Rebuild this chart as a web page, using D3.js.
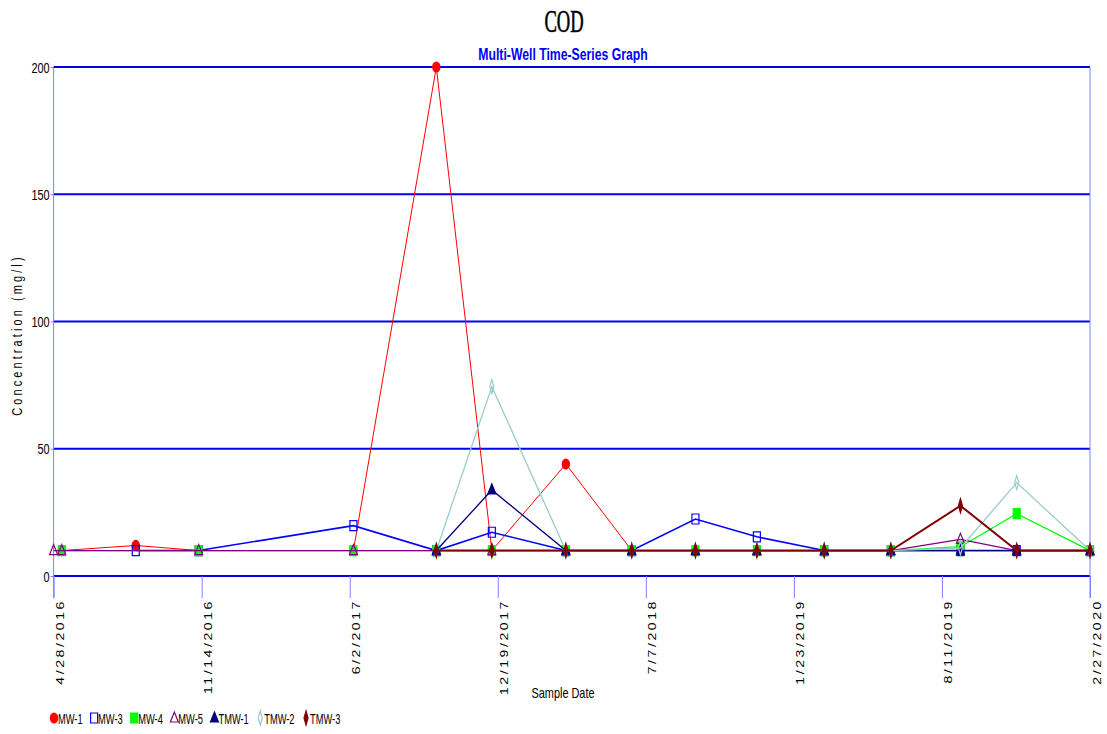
<!DOCTYPE html>
<html>
<head>
<meta charset="utf-8">
<script src="https://cdn.jsdelivr.net/npm/d3@7.9.0/dist/d3.min.js"></script>
<style>
  body { margin: 0; background: #fff; }
  svg text { font-family: "Liberation Sans", Arial, sans-serif; }
</style>
</head>
<body>
<svg id="chart" width="1107" height="734"></svg>
<script>
const sampleDates = ['2016-04-28', '2016-05-09', '2016-08-17', '2016-11-10', '2017-06-07', '2017-09-27',
  '2017-12-11', '2018-03-21', '2018-06-18', '2018-09-12', '2018-12-04', '2019-03-05',
  '2019-06-03', '2019-09-05', '2019-11-20', '2020-02-27'];
const mw1  = [null, 10, 12, 10, 10, 200, 10, 44, 10, 10, 10, 10, 10, 10, 10, 10];
const mw3  = [null, null, 10, 10, 19.8, 10, 17.2, 10, 10, 22.4, 15.4, 10, 10, 10, 10, 10];
const mw4  = [null, 10, null, 10, 10, 10, 10, 10, 10, 10, 10, 10, 10, 11.5, 24.5, 10];
const mw5  = [10, 10, null, 10, 10, 10, 10, 10, 10, 10, 10, 10, 10, 14.4, 10, 10];
const tmw1 = [null, null, null, null, null, 10, 33.8, 10, 10, 10, 10, 10, 10, 10, 10, 10];
const tmw2 = [null, null, null, null, null, 10, 74.4, 10, 10, 10, 10, 10, 10, 11, 36.7, 10];
const tmw3 = [null, null, null, null, null, 10, 10, 10, 10, 10, 10, 10, 10, 27.6, 10, 10];
const yTicks = [0, 50, 100, 150, 200];
const tickStart = '2016-04-28';
const tickStepDays = 200;
const tickCount = 8;

const series = [
  {name: 'MW-1', values: mw1, color: '#ff0000', shape: 'circle', fill: true, width: 1},
  {name: 'MW-3', values: mw3, color: '#0000ff', shape: 'square', fill: false, width: 1.6},
  {name: 'MW-4', values: mw4, color: '#00ff00', shape: 'square', fill: true, width: 1.3},
  {name: 'MW-5', values: mw5, color: '#800080', shape: 'triangle', fill: false, width: 1.3},
  {name: 'TMW-1', values: tmw1, color: '#000080', shape: 'triangle', fill: true, width: 1.3},
  {name: 'TMW-2', values: tmw2, color: '#99cccc', shape: 'diamond', fill: false, width: 1.3},
  {name: 'TMW-3', values: tmw3, color: '#800000', shape: 'diamond', fill: true, width: 2},
];

const parse = d3.timeParse('%Y-%m-%d');
const dates = sampleDates.map(parse);
const t0 = parse(tickStart);
const xTicks = d3.range(tickCount).map(i => d3.timeDay.offset(t0, i * tickStepDays));

const svg = d3.select('#chart');
const plotLeft = 53.6, plotRight = 1090, plotTop = 67, plotBottom = 576;
const squeeze = 0.78; // the original uses a condensed font

const x = d3.scaleTime().domain([xTicks[0], xTicks[xTicks.length - 1]]).range([plotLeft, plotRight]);
const y = d3.scaleLinear().domain([0, 200]).range([plotBottom, plotTop]);

// put condensed text at (tx, ty)
function narrowText(parent, tx, ty, str, anchor, sx) {
  return parent.append('text')
    .attr('transform', `translate(${tx},${ty}) scale(${sx || squeeze},1)`)
    .attr('text-anchor', anchor || 'start')
    .text(str);
}

// titles
svg.append('text').attr('transform', 'translate(564,32) scale(0.6,1)').attr('text-anchor', 'middle')
  .style('font-family', '"Liberation Serif", serif').style('font-size', '31px')
  .attr('stroke', '#000').attr('stroke-width', 0.6)
  .text('COD');
narrowText(svg, 563, 60, 'Multi-Well Time-Series Graph', 'middle', 0.72)
  .style('font-size', '17px').style('font-weight', 'bold').attr('fill', '#0000ff');

// horizontal grid lines
svg.append('g').selectAll('line').data(yTicks).join('line')
  .attr('x1', plotLeft).attr('x2', plotRight)
  .attr('y1', d => y(d)).attr('y2', d => y(d))
  .attr('stroke', '#0000ee').attr('stroke-width', 1.8);

// left and right frame
svg.append('line').attr('x1', plotLeft).attr('x2', plotLeft).attr('y1', plotTop).attr('y2', plotBottom + 22)
  .attr('stroke', '#8080ff').attr('stroke-width', 1);
svg.append('line').attr('x1', plotRight).attr('x2', plotRight).attr('y1', plotTop).attr('y2', plotBottom + 22)
  .attr('stroke', '#8080ff').attr('stroke-width', 1);

// y axis labels
const yAxis = d3.axisLeft(y).tickValues(yTicks).tickSize(3).tickPadding(1);
const gy = svg.append('g').attr('transform', `translate(${plotLeft},0)`).call(yAxis);
gy.select('.domain').remove();
gy.selectAll('.tick line').attr('stroke', '#8080ff');
gy.selectAll('.tick text').attr('x', null).attr('dy', null)
  .attr('transform', `translate(-4,5) scale(${squeeze},1)`)
  .style('font-size', '14px').attr('fill', '#000');

// x axis ticks + rotated labels
const xAxis = d3.axisBottom(x).tickValues(xTicks).tickSize(22).tickFormat(d3.timeFormat('%-m/%-d/%Y'));
const gx = svg.append('g').attr('transform', `translate(0,${plotBottom})`).call(xAxis);
gx.select('.domain').remove();
gx.selectAll('.tick line').attr('stroke', '#8080ff');
gx.selectAll('.tick text')
  .attr('transform', `translate(10,23) rotate(-90) scale(1,${squeeze})`)
  .attr('text-anchor', 'end')
  .attr('x', 0).attr('y', 0).attr('dy', 0)
  .attr('fill', '#000')
  .style('font-size', '14px').style('letter-spacing', '2.6px');

// axis titles
svg.append('text').attr('transform', `translate(22,335) rotate(-90) scale(${squeeze},1)`).attr('text-anchor', 'middle')
  .style('font-size', '14px').style('letter-spacing', '4px').text('Concentration (mg/l)');
narrowText(svg, 563, 698, 'Sample Date', 'middle').style('font-size', '14px');

// marker shapes (drawn slightly taller than wide like the original)
function markerPath(shape) {
  if (shape === 'circle') return 'M0,-5 A3.6,5 0 1,1 0,5 A3.6,5 0 1,1 0,-5 Z';
  if (shape === 'square') return 'M-3.5,-5 H3.5 V5 H-3.5 Z';
  if (shape === 'triangle') return 'M0,-6 L4,4 L-4,4 Z';
  return 'M0,-7 L2,0 L0,7 L-2,0 Z';
}

const line = d3.line()
  .defined(d => d.v !== null)
  .x(d => x(d.date)).y(d => y(d.v));

series.forEach(s => {
  const pts = dates.map((date, i) => ({date, v: s.values[i]})).filter(d => d.v !== null);
  svg.append('path').datum(pts)
    .attr('d', line)
    .attr('fill', 'none')
    .attr('stroke', s.color)
    .attr('stroke-width', s.width);
  svg.append('g').selectAll('path').data(pts).join('path')
    .attr('d', markerPath(s.shape))
    .attr('transform', d => `translate(${x(d.date)},${y(d.v)})`)
    .attr('fill', s.fill ? s.color : 'none')
    .attr('stroke', s.color)
    .attr('stroke-width', 1.2);
});

// legend
const legend = svg.append('g').attr('transform', 'translate(54,718)');
let lx = 0;
series.forEach(s => {
  const g = legend.append('g').attr('transform', `translate(${lx},0)`);
  g.append('path').attr('d', markerPath(s.shape))
    .attr('fill', s.fill ? s.color : 'none')
    .attr('stroke', s.color).attr('stroke-width', 1.2);
  const t = narrowText(g, 4, 5.5, s.name, 'start', 0.62).style('font-size', '15px');
  lx += 4 + t.node().getComputedTextLength() * 0.62 + 11.5;
});
</script>
</body>
</html>
